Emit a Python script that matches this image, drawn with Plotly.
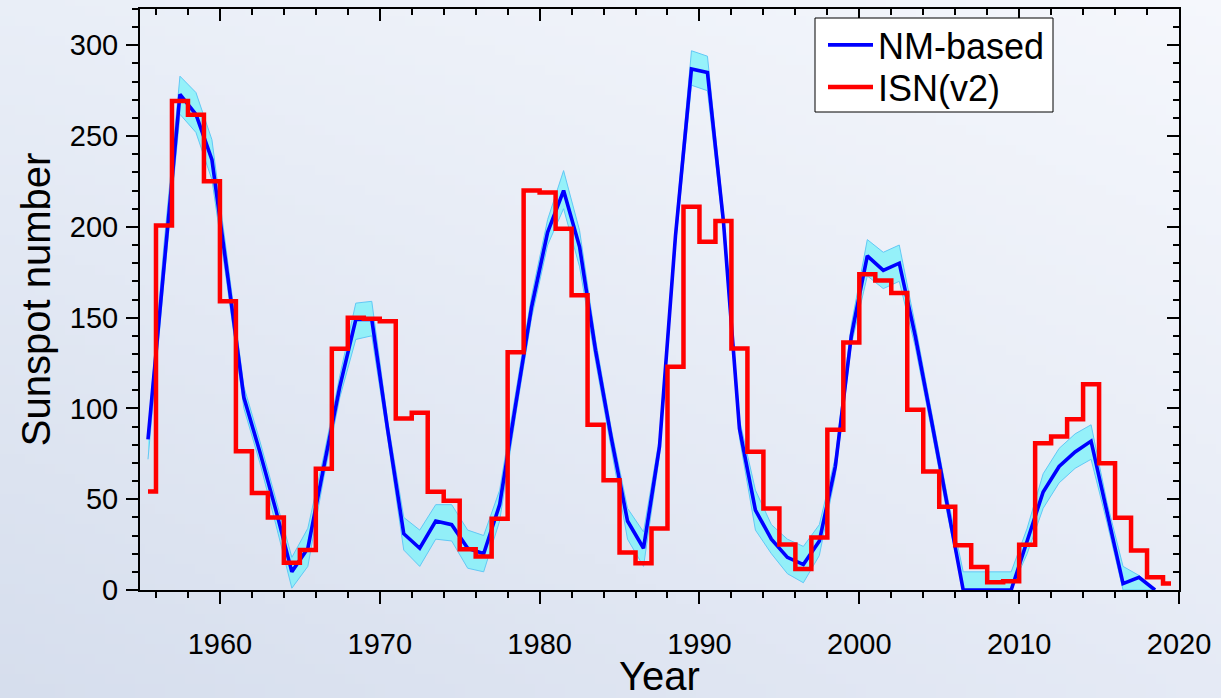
import base64
import struct
import zlib

import plotly.graph_objects as go

# Annual values, 1955 onwards (plotted at mid-year)
nm_years = list(range(1955, 2019))
nm_based = [83, 180, 273, 262, 237, 172, 106, 76, 44, 10,
            23, 68, 112, 149, 149, 88, 31, 23, 38, 36,
            23, 20, 47, 102, 156, 197, 220, 189, 132, 83,
            38, 23, 79, 195, 287, 285, 203, 89, 44, 28,
            18, 14, 27, 68, 140, 184, 176, 180, 140, 94,
            47, 0, 0, 0, 0, 27, 54, 68, 76, 82,
            42, 3.5, 7, 0]
nm_lower = [72, 170, 262, 252, 226, 165, 100, 70, 36, 1,
            13, 62, 106, 138, 140, 83, 22, 13, 28, 27,
            12, 10, 38, 96, 150, 190, 210, 178, 126, 78,
            28, 13, 74, 190, 278, 275, 198, 84, 33, 20,
            9, 4, 19, 63, 135, 173, 166, 170, 134, 89,
            42, 0, 0, 0, 0, 20, 45, 59, 67, 72,
            37, 0, 0, 0]
nm_upper = [86, 190, 283, 274, 248, 180, 112, 82, 50, 18,
            34, 74, 118, 158, 159, 93, 40, 33, 47, 47,
            33, 30, 55, 108, 162, 204, 231, 198, 138, 88,
            45, 32, 84, 200, 297, 294, 208, 94, 55, 36,
            28, 24, 36, 73, 146, 193, 186, 190, 146, 99,
            52, 10, 10, 10, 10, 34, 64, 78, 86, 91,
            48, 13, 8, 0]

isn_years = list(range(1955, 2020))
isn_v2 = [54.2, 200.7, 269.3, 261.7, 225.1, 159.0, 76.4, 53.4, 39.9, 15.0,
          22.0, 66.8, 132.9, 150.0, 149.4, 148.0, 94.4, 97.6, 54.1, 49.2,
          22.5, 18.4, 39.3, 131.0, 220.1, 218.9, 198.9, 162.4, 91.0, 60.5,
          20.6, 14.8, 33.9, 123.0, 211.1, 191.8, 203.3, 133.0, 76.1, 44.9,
          25.1, 11.6, 28.9, 88.3, 136.3, 173.9, 170.4, 163.6, 99.3, 65.3,
          45.8, 24.7, 12.6, 4.2, 4.8, 24.9, 80.8, 84.5, 94.0, 113.3,
          69.8, 39.8, 21.7, 7.0, 3.6]

x_ticks = [1960, 1970, 1980, 1990, 2000, 2010, 2020]
y_ticks = [0, 50, 100, 150, 200, 250, 300]

W, H = 1221, 698
ML, MR, MT, MB = 140, 42, 9, 108
PW, PH = W - ML - MR, H - MT - MB
FONT = "Arial, Liberation Sans, sans-serif"


def px_x(p):
    """Figure pixel column -> paper x."""
    return (p - ML) / PW


def px_y(p):
    """Figure pixel row -> paper y."""
    return 1 - (p - MT) / PH


def gradient_png(w, h, tl, tr, bl, br):
    """Small bilinear four-corner gradient, returned as a PNG data URI."""
    rows = []
    for j in range(h):
        v = j / (h - 1)
        row = bytearray([0])
        for i in range(w):
            u = i / (w - 1)
            for c in range(3):
                top = tl[c] * (1 - u) + tr[c] * u
                bot = bl[c] * (1 - u) + br[c] * u
                row.append(int(round(top * (1 - v) + bot * v)))
        rows.append(bytes(row))
    raw = b"".join(rows)

    def chunk(tag, data):
        c = struct.pack(">I", len(data)) + tag + data
        return c + struct.pack(">I", zlib.crc32(tag + data) & 0xFFFFFFFF)

    png = b"\x89PNG\r\n\x1a\n"
    png += chunk(b"IHDR", struct.pack(">IIBBBBB", w, h, 8, 2, 0, 0, 0))
    png += chunk(b"IDAT", zlib.compress(raw, 9))
    png += chunk(b"IEND", b"")
    return "data:image/png;base64," + base64.b64encode(png).decode()


bg = gradient_png(122, 70, (233, 238, 247), (245, 247, 252),
                  (214, 222, 237), (229, 234, 245))

mid = [y + 0.5 for y in nm_years]
isn_mid = [y + 0.5 for y in isn_years]

fig = go.Figure()

# uncertainty band of the NM-based reconstruction
fig.add_trace(go.Scatter(x=mid, y=nm_lower, mode="lines",
                         line=dict(color="#62c8f5", width=1),
                         showlegend=False, hoverinfo="skip"))
fig.add_trace(go.Scatter(x=mid, y=nm_upper, mode="lines",
                         line=dict(color="#62c8f5", width=1),
                         fill="tonexty", fillcolor="rgba(120,242,250,0.75)",
                         showlegend=False, hoverinfo="skip"))

fig.add_trace(go.Scatter(x=mid, y=nm_based, mode="lines", name="NM-based",
                         line=dict(color="#0000ff", width=3.6),
                         legend="legend"))

fig.add_trace(go.Scatter(x=isn_mid, y=isn_v2, mode="lines", name="ISN(v2)",
                         line=dict(color="#ff0000", width=4.5, shape="hvh"),
                         legend="legend2"))

# empty trace that carries the mirrored top/right axes
fig.add_trace(go.Scatter(x=[], y=[], xaxis="x2", yaxis="y2",
                         showlegend=False, hoverinfo="skip"))

axis_common = dict(showgrid=False, zeroline=False, showline=True,
                   linecolor="black", linewidth=2, tickcolor="black",
                   tickwidth=2, ticklen=12, automargin=False)

legend_common = dict(xanchor="left", yanchor="top",
                     bgcolor="rgba(0,0,0,0)", borderwidth=0,
                     itemwidth=45, font=dict(size=36, family=FONT))

fig.update_layout(
    width=W, height=H,
    margin=dict(l=ML, r=MR, t=MT, b=MB, autoexpand=False),
    paper_bgcolor="#e4e9f4",
    plot_bgcolor="rgba(0,0,0,0)",
    font=dict(family=FONT, color="black"),
    images=[dict(source=bg, xref="paper", yref="paper",
                 x=px_x(0), y=px_y(0), sizex=W / PW, sizey=H / PH,
                 xanchor="left", yanchor="top", sizing="stretch",
                 layer="below")],
    # white legend frame
    shapes=[dict(type="rect", xref="paper", yref="paper",
                 x0=px_x(815), x1=px_x(1053), y0=px_y(112), y1=px_y(18),
                 fillcolor="white", line=dict(color="black", width=1),
                 layer="above")],
    xaxis=dict(range=[1955, 2020], tickvals=x_ticks, ticks="outside",
               tickfont=dict(size=29), ticklabelstandoff=15,
               minor=dict(dtick=2, tick0=1954, ticks="outside", ticklen=6,
                          tickwidth=2, tickcolor="black"),
               title=dict(text="Year", font=dict(size=40), standoff=4),
               **axis_common),
    yaxis=dict(range=[0, 320], tickvals=y_ticks, ticks="outside",
               tickfont=dict(size=29), ticklabelstandoff=2,
               minor=dict(dtick=10, ticks="outside", ticklen=6,
                          tickwidth=2, tickcolor="black"),
               title=dict(text="Sunspot number", font=dict(size=40),
                          standoff=7),
               **axis_common),
    xaxis2=dict(range=[1955, 2020], overlaying="x", side="top",
                tickvals=x_ticks, ticks="inside", showticklabels=False,
                minor=dict(dtick=2, tick0=1954, ticks="inside", ticklen=6,
                           tickwidth=2, tickcolor="black"),
                **axis_common),
    yaxis2=dict(range=[0, 320], overlaying="y", side="right",
                tickvals=y_ticks, ticks="inside", showticklabels=False,
                minor=dict(dtick=10, ticks="inside", ticklen=6,
                           tickwidth=2, tickcolor="black"),
                **axis_common),
    legend=dict(x=px_x(823), y=px_y(15), **legend_common),
    legend2=dict(x=px_x(823), y=px_y(57), **legend_common),
    showlegend=True,
)

fig.write_html("out.html")
